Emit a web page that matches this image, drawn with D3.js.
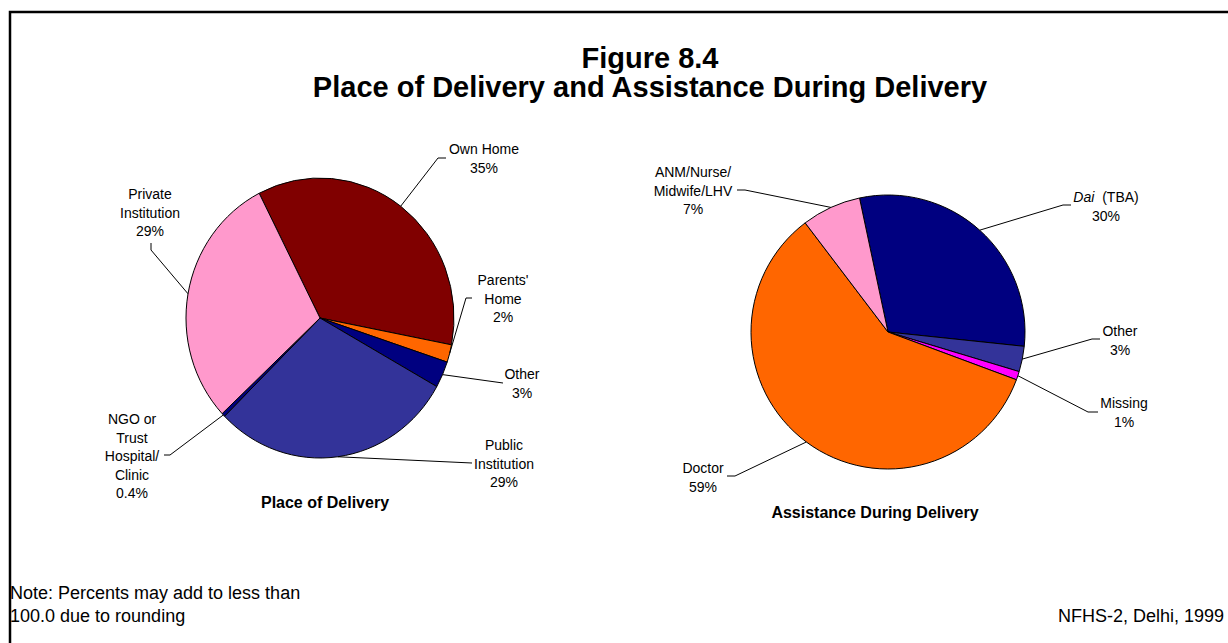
<!DOCTYPE html>
<html>
<head>
<meta charset="utf-8">
<script src="https://cdn.jsdelivr.net/npm/d3@7/dist/d3.min.js"></script>
<style>
  html, body { margin: 0; padding: 0; background: #fff; }
  svg { display: block; }
  text { font-family: "Liberation Sans", Arial, sans-serif; fill: #000; }
</style>
</head>
<body>
<svg id="chart" width="1228" height="643"></svg>
<script>
// ---- Data ----------------------------------------------------------
// Place of delivery (percent of births)
const placeCategories = ["Own Home", "Parents' Home", "Other", "Public Institution",
                         "NGO or Trust Hospital/Clinic", "Private Institution"];
const placeValues = [35, 2, 3, 29, 0.4, 29];
const placeColors = ["#800000", "#FF6600", "#000080", "#333399", "#000080", "#FF99CC"];

// Assistance during delivery (percent of births)
const assistCategories = ["Dai (TBA)", "Other", "Missing", "Doctor", "ANM/Nurse/Midwife/LHV"];
const assistValues = [30, 3, 1, 59, 7];
const assistColors = ["#000080", "#333399", "#FF00FF", "#FF6600", "#FF99CC"];

// ---- Label layout (line breaks, text anchor point, leader elbows) ----
const placeLabelLayout = [
  { lines: ["Own Home"], x: 484, y: 154, leader: [[438, 158], [446, 158]] },
  { lines: ["Parents'", "Home"], x: 503, y: 285, leader: [[466, 298], [472, 298]] },
  { lines: ["Other"], x: 522, y: 379, leader: [[503, 383]] },
  { lines: ["Public", "Institution"], x: 504, y: 450, leader: [[472, 463]] },
  { lines: ["NGO or", "Trust", "Hospital/", "Clinic"], x: 132, y: 424, leader: [[170, 455], [164, 455]] },
  { lines: ["Private", "Institution"], x: 150, y: 199, leader: [[151, 250], [151, 243]] }
];
const assistLabelLayout = [
  { lines: ["Dai (TBA)"], x: 1106, y: 202, leader: [[1063, 205], [1071, 205]] },
  { lines: ["Other"], x: 1120, y: 336, leader: [[1092, 339], [1100, 339]] },
  { lines: ["Missing"], x: 1124, y: 408, leader: [[1088, 412], [1098, 412]] },
  { lines: ["Doctor"], x: 703, y: 473, leader: [[735, 476], [727, 476]] },
  { lines: ["ANM/Nurse/", "Midwife/LHV"], x: 693, y: 177, leader: [[745, 190], [737, 190]] }
];

const rad = deg => deg * Math.PI / 180;
const fmtPct = v => (Number.isInteger(v) ? d3.format("d")(v) : d3.format(".1f")(v)) + "%";
const LINE_H = 18.5;

const svg = d3.select("#chart");

function addText(x, y, str, { size, weight = "normal", anchor = "start" }) {
  return svg.append("text")
    .attr("x", x).attr("y", y)
    .attr("text-anchor", anchor)
    .style("font-size", size + "px")
    .style("font-weight", weight)
    .text(str);
}

// Frame around the figure
svg.append("path")
  .attr("d", "M10,643 L10,12 L1228,12")
  .attr("fill", "none")
  .attr("stroke", "#000")
  .attr("stroke-width", 2.5);

// Titles
addText(650, 68, "Figure 8.4", { size: 29, weight: "bold", anchor: "middle" });
addText(650, 97, "Place of Delivery and Assistance During Delivery",
        { size: 29, weight: "bold", anchor: "middle" });

function drawPie(opts) {
  const { values, colors, layout, cx, cy, r, sy, startDeg, title, titleX, titleY, italicFirstWord } = opts;
  const pie = d3.pie().sort(null).value(d => d)
    .startAngle(rad(startDeg)).endAngle(rad(startDeg + 360));
  const arcs = pie(values);
  const arc = d3.arc().innerRadius(0).outerRadius(r);

  const g = svg.append("g")
    .attr("transform", `translate(${cx},${cy}) scale(1,${sy})`);
  g.selectAll("path.slice")
    .data(arcs)
    .join("path")
    .attr("class", "slice")
    .attr("d", arc)
    .attr("fill", (d, i) => colors[i])
    .attr("stroke", "#000")
    .attr("stroke-width", 1)
    .attr("vector-effect", "non-scaling-stroke")
    .attr("stroke-linejoin", "round");

  // Leader lines from the slice's outer edge (mid angle) to the label
  const edgePoint = d => {
    const a = (d.startAngle + d.endAngle) / 2;
    return [cx + r * Math.sin(a), cy - r * Math.cos(a) * sy];
  };
  svg.append("g").selectAll("path.leader")
    .data(arcs)
    .join("path")
    .attr("class", "leader")
    .attr("d", (d, i) => d3.line()([edgePoint(d), ...layout[i].leader]))
    .attr("fill", "none")
    .attr("stroke", "#000")
    .attr("stroke-width", 1);

  // Labels: category name lines followed by the value
  const lg = svg.append("g");
  arcs.forEach((d, i) => {
    const L = layout[i];
    const lines = [...L.lines, fmtPct(values[i])];
    const t = lg.append("text")
      .attr("text-anchor", "middle")
      .style("font-size", "14px");
    lines.forEach((ln, k) => {
      const ts = t.append("tspan").attr("x", L.x).attr("y", L.y + k * LINE_H);
      if (k === 0 && italicFirstWord === i) {
        const parts = ln.split(" ");
        ts.append("tspan").style("font-style", "italic").text(parts[0]);
        ts.append("tspan").attr("dx", 4).text(" " + parts.slice(1).join(" "));
      } else {
        ts.text(ln);
      }
    });
  });

  addText(titleX, titleY, title, { size: 16, weight: "bold", anchor: "middle" });
}

drawPie({
  values: placeValues, colors: placeColors, layout: placeLabelLayout,
  cx: 320, cy: 318, r: 134, sy: 140 / 134, startDeg: -27,
  title: "Place of Delivery", titleX: 325, titleY: 508
});

drawPie({
  values: assistValues, colors: assistColors, layout: assistLabelLayout,
  cx: 888, cy: 332, r: 137, sy: 1, startDeg: -12,
  title: "Assistance During Delivery", titleX: 875, titleY: 518,
  italicFirstWord: 0
});

// Footer notes
addText(10, 599, "Note: Percents may add to less than", { size: 18 });
addText(10, 622, "100.0 due to rounding", { size: 18 });
addText(1224, 622, "NFHS-2, Delhi, 1999", { size: 18, anchor: "end" });
</script>
</body>
</html>
